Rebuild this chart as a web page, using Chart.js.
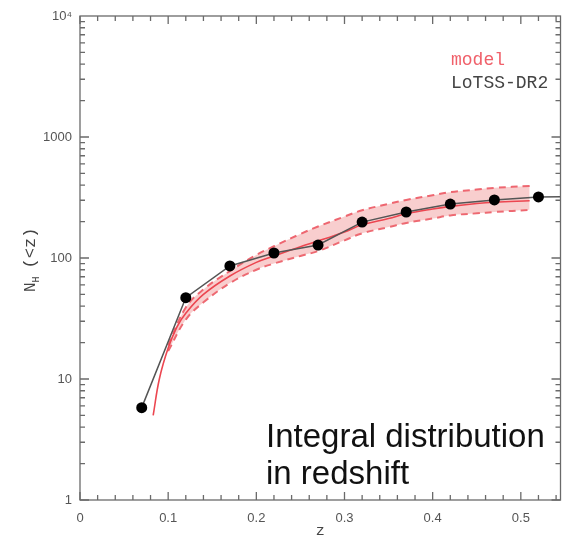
<!DOCTYPE html>
<html>
<head>
<meta charset="utf-8">
<script src="https://cdn.jsdelivr.net/npm/chart.js@4.4.0/dist/chart.umd.min.js"></script>
<style>
  html, body { margin: 0; padding: 0; background: #fff; overflow: hidden; }
  #wrap { width: 566px; height: 540px; }
</style>
</head>
<body>
<div id="wrap"><canvas id="myChart" width="566" height="540"></canvas></div>
<script>
// LoTSS-DR2 integral counts N(<z)
const zData = [0.07, 0.12, 0.17, 0.22, 0.27, 0.32, 0.37, 0.42, 0.47, 0.52, 0.57];
const nData = [5.8, 47, 86, 110, 128, 198, 240, 279, 302, 320, 321];

// model curve
const zModel = [0.083, 0.09, 0.1, 0.11, 0.12, 0.14, 0.17, 0.2, 0.22, 0.25, 0.27, 0.3, 0.32, 0.35, 0.37, 0.4, 0.42, 0.45, 0.47, 0.51];
const nModel = [5, 10, 18, 27, 35, 50, 71, 92, 104, 124, 138, 164, 188, 212, 232, 254, 267, 282, 289, 297];

// model uncertainty band
const zBand = [0.1, 0.12, 0.14, 0.17, 0.2, 0.22, 0.25, 0.27, 0.3, 0.32, 0.35, 0.37, 0.4, 0.42, 0.45, 0.47, 0.51];
const nUpper = [19, 39, 55, 78, 106, 125, 158, 182, 220, 248, 280, 302, 330, 350, 368, 380, 394];
const nLower = [17, 31, 43, 62, 80, 90, 104, 114, 140, 160, 180, 195, 212, 225, 234, 240, 250];

const xTicks = [0, 0.1, 0.2, 0.3, 0.4, 0.5];
const xLabels = ['0', '0.1', '0.2', '0.3', '0.4', '0.5'];
const yTicks = [1, 10, 100, 1000, 10000];
const yLabels = ['1', '10', '100', '1000', '10⁴'];

const RED = '#ec4650';
const pts = (xs, ys) => xs.map((v, i) => ({x: v, y: ys[i]}));

// box frame with inward ticks, legend text, labels
const framePlugin = {
  id: 'frame',
  afterDatasetsDraw(chart) {
    const {ctx, chartArea: a, scales: {x, y}} = chart;
    ctx.save();
    ctx.strokeStyle = '#6a6a6a';
    ctx.lineWidth = 1.3;
    ctx.strokeRect(a.left, a.top, a.right - a.left, a.bottom - a.top);
    ctx.beginPath();
    for (let i = 0; i * 0.02 <= x.max + 1e-9; i++) {
      const px = x.getPixelForValue(i * 0.02);
      const len = i % 5 === 0 ? 8 : 5;
      ctx.moveTo(px, a.bottom); ctx.lineTo(px, a.bottom - len);
      ctx.moveTo(px, a.top); ctx.lineTo(px, a.top + len);
    }
    for (let d = 0; d < 4; d++) {
      for (let m = 1; m <= 9; m++) {
        const py = y.getPixelForValue(m * Math.pow(10, d));
        const len = m === 1 ? 9 : 5;
        ctx.moveTo(a.left, py); ctx.lineTo(a.left + len, py);
        ctx.moveTo(a.right, py); ctx.lineTo(a.right - len, py);
      }
    }
    ctx.stroke();

    // legend
    ctx.font = '18px "Liberation Mono"';
    ctx.textAlign = 'left';
    ctx.textBaseline = 'alphabetic';
    ctx.fillStyle = '#f0606a';
    ctx.fillText('model', 451, 65);
    ctx.fillStyle = '#444';
    ctx.fillText('LoTSS-DR2', 451, 88);

    // y title N_H (<z)
    ctx.save();
    ctx.translate(35, 292);
    ctx.rotate(-Math.PI / 2);
    ctx.fillStyle = '#444';
    ctx.font = '16px "Liberation Mono"';
    ctx.fillText('N', 0, 0);
    let w = ctx.measureText('N').width;
    ctx.font = '10px "Liberation Mono"';
    ctx.fillText('H', w, 4);
    w += ctx.measureText('H').width + 8;
    ctx.font = '17px "Liberation Mono"';
    ctx.fillText('(<z)', w, 0);
    ctx.restore();

    // annotation
    ctx.fillStyle = '#111';
    ctx.font = '33px "Liberation Sans"';
    ctx.fillText('Integral distribution', 266, 447);
    ctx.fillText('in redshift', 266, 484);
    ctx.restore();
  }
};

const ctx = document.getElementById('myChart').getContext('2d');
const myChart = new Chart(ctx, {
  type: 'line',
  data: {
    datasets: [
      {
        label: 'LoTSS-DR2',
        data: pts(zData, nData),
        borderColor: '#555',
        borderWidth: 1.5,
        pointRadius: 5.5,
        pointBackgroundColor: '#000',
        pointBorderColor: '#000',
        pointBorderWidth: 0,
        fill: false
      },
      {
        label: 'model',
        data: pts(zModel, nModel),
        borderColor: RED,
        borderWidth: 1.6,
        pointRadius: 0,
        tension: 0.4,
        fill: false
      },
      {
        label: 'upper',
        data: pts(zBand, nUpper),
        borderColor: '#ee6670',
        borderWidth: 2,
        borderDash: [7, 5],
        pointRadius: 0,
        tension: 0.4,
        backgroundColor: 'rgba(236, 125, 125, 0.38)',
        fill: '+1'
      },
      {
        label: 'lower',
        data: pts(zBand, nLower),
        borderColor: '#ee6670',
        borderWidth: 2,
        borderDash: [7, 5],
        pointRadius: 0,
        tension: 0.4,
        fill: false
      }
    ]
  },
  options: {
    responsive: false,
    animation: false,
    layout: { padding: { top: 16, right: 2, left: 0, bottom: 0 } },
    plugins: { legend: { display: false }, tooltip: { enabled: false } },
    scales: {
      x: {
        type: 'linear',
        min: 0,
        max: 0.545,
        afterBuildTicks: s => { s.ticks = xTicks.map(v => ({value: v})); },
        afterFit: s => { s.height = 40; s.paddingLeft = 0; s.paddingRight = 0; },
        grid: { display: false, drawTicks: false },
        border: { display: false },
        ticks: {
          padding: 11,
          color: '#555',
          font: { family: 'Liberation Sans', size: 13 },
          callback: (v, i) => xLabels[i]
        },
        title: {
          display: true,
          text: 'z',
          color: '#444',
          font: { family: 'Liberation Mono', size: 15 },
          padding: { top: 0, bottom: 0 }
        }
      },
      y: {
        type: 'logarithmic',
        min: 1,
        max: 10000,
        afterBuildTicks: s => { s.ticks = yTicks.map(v => ({value: v})); },
        afterFit: s => { s.width = 80; },
        grid: { display: false, drawTicks: false },
        border: { display: false },
        ticks: {
          padding: 8,
          color: '#555',
          font: { family: 'Liberation Sans', size: 13 },
          callback: (v, i) => yLabels[i]
        }
      }
    }
  },
  plugins: [framePlugin]
});
</script>
</body>
</html>
